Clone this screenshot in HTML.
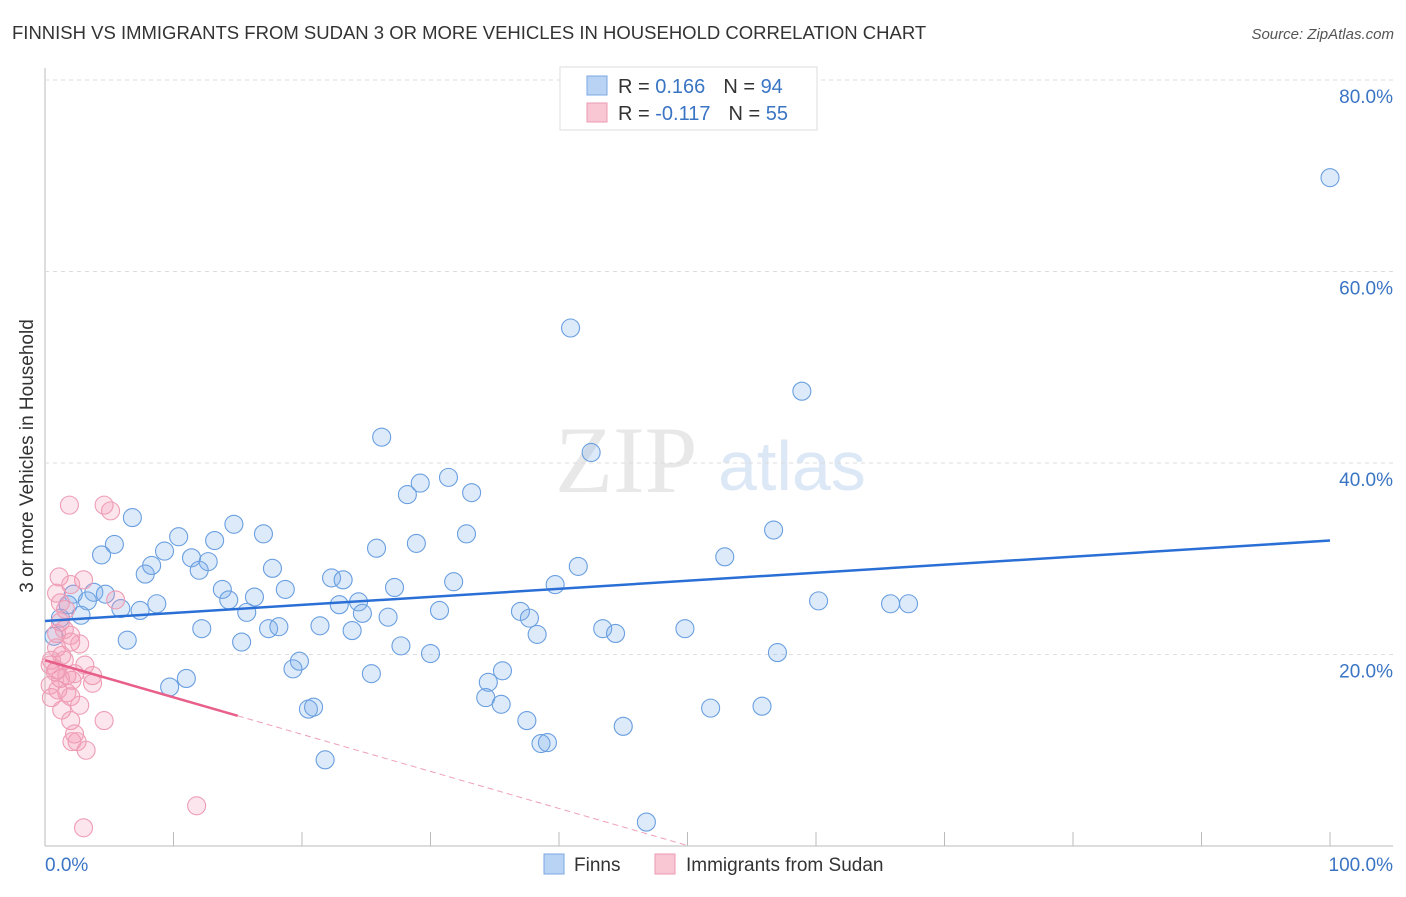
<!DOCTYPE html>
<html><head><meta charset="utf-8"><style>
body{margin:0;background:#fff;font-family:"Liberation Sans",sans-serif}
</style></head><body>
<svg width="1406" height="892" id="c" font-family="Liberation Sans, sans-serif">
<text x="12" y="39" font-size="18.5" fill="#333">FINNISH VS IMMIGRANTS FROM SUDAN 3 OR MORE VEHICLES IN HOUSEHOLD CORRELATION CHART</text>
<text x="1394" y="39" font-size="15" fill="#555" text-anchor="end" font-style="italic">Source: ZipAtlas.com</text>
<text x="555" y="492" font-size="95" fill="#e8e8e8" font-family="Liberation Serif, serif">ZIP</text>
<text x="718" y="490" font-size="70" fill="#dce8f6">atlas</text>
<text x="33" y="456" font-size="19" fill="#333" text-anchor="middle" transform="rotate(-90 33 456)">3 or more Vehicles in Household</text>
<g id="grid"></g><g id="marks"></g>
<g>
<rect x="560" y="67" width="257" height="63" fill="#fff" stroke="#ddd"/>
<rect x="587" y="76" width="20" height="19" fill="#b9d3f5" stroke="#7aa7e3"/>
<rect x="587" y="103" width="20" height="19" fill="#f9c6d4" stroke="#ec9ab2"/>
<text x="618" y="93" font-size="20" fill="#333">R = <tspan fill="#3a75c4"> 0.166</tspan><tspan dx="18">N = </tspan><tspan fill="#3a75c4">94</tspan></text>
<text x="618" y="120" font-size="20" fill="#333">R = <tspan fill="#3a75c4">-0.117</tspan><tspan dx="18">N = </tspan><tspan fill="#3a75c4">55</tspan></text>
</g>
<g>
<rect x="544" y="854" width="20" height="20" fill="#b9d3f5" stroke="#7aa7e3"/>
<text x="574" y="871" font-size="19" fill="#333">Finns</text>
<rect x="655" y="854" width="20" height="20" fill="#f9c6d4" stroke="#ec9ab2"/>
<text x="686" y="871" font-size="19" fill="#333">Immigrants from Sudan</text>
</g>
<text x="45" y="871" font-size="19" fill="#3a75c4">0.0%</text>
<text x="1393" y="871" font-size="19" fill="#3a75c4" text-anchor="end">100.0%</text>
</svg>
<script>
const yTicks=[20,40,60,80];
const blueX=[100,40.9,58.9,26.2,42.5,31.4,29.2,28.2,33.2,6.8,14.7,56.7,10.4,17.0,13.2,32.8,5.4,28.9,25.8,9.3,4.4,11.4,52.9,12.7,8.3,17.7,41.5,12.0,7.8,22.3,23.2,31.8,27.2,39.7,13.8,18.7,2.2,3.8,4.7,16.3,14.3,3.3,8.7,24.4,1.8,60.2,65.8,67.2,5.9,7.4,22.9,30.7,37.0,15.7,24.7,26.7,2.8,37.7,1.2,21.4,43.4,44.4,49.8,12.2,17.4,18.2,23.9,38.3,0.7,6.4,15.3,27.7,30.0,57.0,19.8,19.3,35.6,25.4,34.5,11.0,9.7,34.3,35.5,20.5,20.9,51.8,55.8,37.5,45.0,38.6,39.1,21.8,46.8];
const blueY=[69.8,54.1,47.5,42.7,41.1,38.5,37.9,36.7,36.9,34.3,33.6,33.0,32.3,32.6,31.9,32.6,31.5,31.6,31.1,30.8,30.4,30.1,30.2,29.7,29.3,29.0,29.2,28.8,28.4,28.0,27.8,27.6,27.0,27.3,26.8,26.8,26.3,26.5,26.3,26.0,25.7,25.6,25.3,25.5,25.2,25.6,25.3,25.3,24.8,24.6,25.2,24.6,24.5,24.4,24.3,23.9,24.1,23.8,23.8,23.0,22.7,22.2,22.7,22.7,22.7,22.9,22.5,22.1,21.9,21.5,21.3,20.9,20.1,20.2,19.3,18.5,18.3,18.0,17.1,17.5,16.6,15.5,14.8,14.3,14.5,14.4,14.6,13.1,12.5,10.7,10.8,9.0,2.5];
const pinkX=[1.9,4.6,5.1,1.1,3.0,2.0,0.9,1.2,5.5,1.6,1.2,1.5,0.9,2.0,2.0,2.7,0.9,1.3,0.5,0.4,0.8,1.7,3.7,3.7,1.2,2.1,0.4,1.0,1.7,0.5,2.0,2.7,1.3,4.6,2.0,2.3,2.1,2.5,3.2,11.8,3.0,1.5,0.9,2.3,3.1];
const pinkY=[35.6,35.6,35.0,28.1,27.8,27.3,26.4,25.4,25.7,24.7,23.4,22.6,22.2,22.0,21.3,21.1,20.7,19.9,19.4,18.9,18.2,17.8,17.8,17.0,17.5,17.3,16.8,16.3,16.0,15.5,15.6,14.7,14.2,13.1,13.1,11.7,10.9,10.9,10.0,4.2,1.9,19.4,18.4,18.0,18.9];
const blueTrend=[23.5,31.9];
const pinkTrend=[19.4,-0.387];
const NS='http://www.w3.org/2000/svg';
const sx=v=>45+v*12.85, sy=v=>846-v*9.575;
function mk(t,a,p){const e=document.createElementNS(NS,t);for(const k in a)e.setAttribute(k,a[k]);p.appendChild(e);return e;}
const g=document.getElementById('grid'),m=document.getElementById('marks');
const ax=mk('line',{x1:45,y1:68,x2:45,y2:846,stroke:'#bbb'},g);


const bx=mk('line',{x1:45,y1:846,x2:1393,y2:846,stroke:'#bbb'},g);


for(let i=1;i<=10;i++){const t=mk('line',{x1:sx(i*10),x2:sx(i*10),y1:832,y2:846,stroke:'#bbb'},g);

}
yTicks.forEach(v=>{const l=mk('line',{x1:45,x2:1393,y1:sy(v),y2:sy(v),stroke:'#ddd','stroke-dasharray':'4,4'},g);


const t=mk('text',{x:1393,y:sy(v)+23,'font-size':19,fill:'#3a75c4','text-anchor':'end'},g);t.textContent=v.toFixed(1)+'%';

});
blueX.forEach((x,i)=>{const c=mk('circle',{cx:sx(x),cy:sy(blueY[i]),r:9,fill:'rgba(120,170,235,0.25)',stroke:'#6a9fe0','stroke-width':1.1},m);

});
pinkX.forEach((x,i)=>{const c=mk('circle',{cx:sx(x),cy:sy(pinkY[i]),r:9,fill:'rgba(245,150,180,0.25)',stroke:'#ee9db5','stroke-width':1.1},m);

});
const bl=mk('line',{x1:sx(0),y1:sy(blueTrend[0]),x2:sx(100),y2:sy(blueTrend[1]),stroke:'#2a6fd6','stroke-width':2.5},m);


const pl=mk('line',{x1:sx(0),y1:sy(pinkTrend[0]),x2:sx(15),y2:sy(pinkTrend[0]+pinkTrend[1]*15),stroke:'#e8608a','stroke-width':2.5},m);


const xe=-pinkTrend[0]/pinkTrend[1];
const pd=mk('line',{x1:sx(15),y1:sy(pinkTrend[0]+pinkTrend[1]*15),x2:sx(xe),y2:sy(0),stroke:'#eea0b8','stroke-width':1,'stroke-dasharray':'6,4'},m);


</script>
</body></html>
